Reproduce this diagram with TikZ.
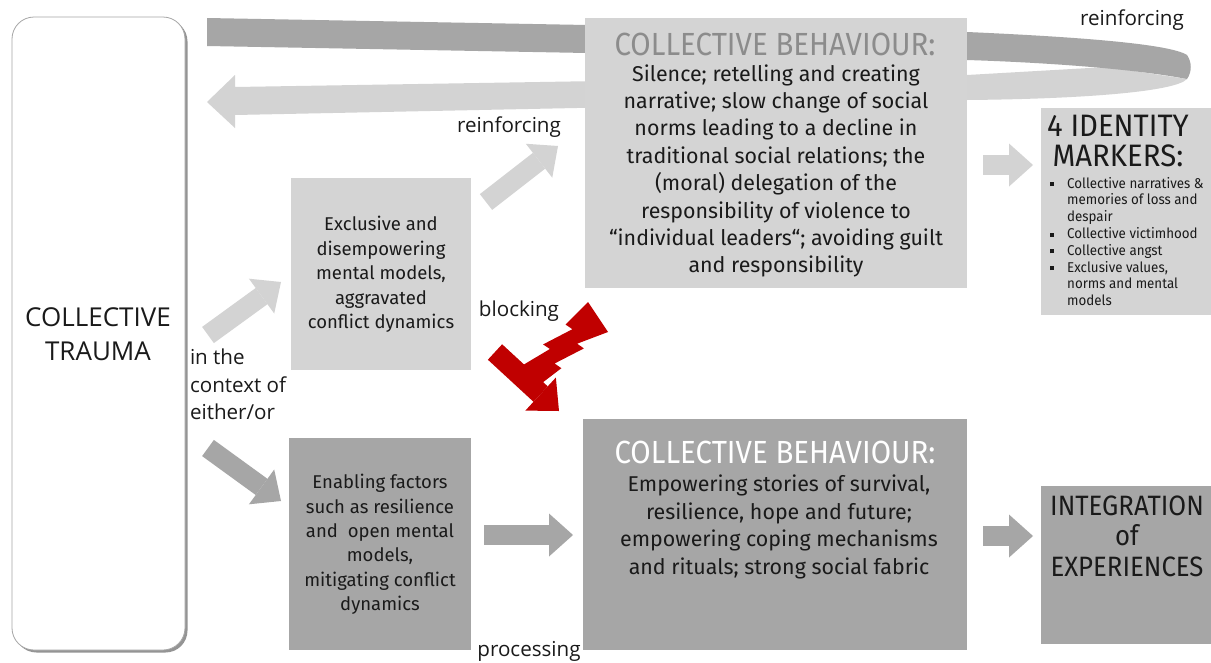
\documentclass[tikz,border=0pt]{standalone}
\usepackage{fontspec}
\setmainfont{Fira Sans}
\newfontfamily\headfont[FakeStretch=0.92]{Fira Sans}
\newfontfamily\idfont[FakeStretch=0.945]{Fira Sans}
\newfontfamily\bodyfont{Fira Sans}
\newfontfamily\listfont[FakeStretch=0.94]{Fira Sans}
\newfontfamily\labfont{Open Sans}
\usetikzlibrary{arrows.meta}
\definecolor{lightg}{HTML}{D3D3D3}
\definecolor{boxlight}{HTML}{D4D4D4}
\definecolor{darkg}{HTML}{A6A6A6}
\definecolor{headg}{HTML}{8C8C8C}
\definecolor{txt}{HTML}{1A1A1A}
\definecolor{boltred}{HTML}{C00000}
\newcommand\mybul{\makebox[17pt][l]{\rule[2pt]{4pt}{4pt}}}
\newcommand\myind{\hspace*{17pt}}
\begin{document}
\begin{tikzpicture}[x=1pt,y=-1pt,
  box/.style={inner sep=0pt, outer sep=0pt, minimum width=#1},
  lightbox/.style={fill=boxlight, draw=none},
  darkbox/.style={fill=darkg, draw=none},
  txtnode/.style={inner sep=0pt, outer sep=0pt, align=center, text=txt},
  lab/.style={inner sep=0pt, outer sep=0pt, text=txt, font={\labfont\fontsize{20.6}{27.5}\selectfont}},
  heading/.style={inner sep=0pt, align=center, font={\headfont\fontsize{32}{30}\selectfont}},
  bodytext/.style={txtnode, font={\bodyfont\fontsize{21.4}{27.4}\selectfont}},
  smalltext/.style={txtnode, font={\fontsize{18.5}{24.4}\selectfont}},
  blockarrow/.style={line width=20pt, -{Triangle[length=24pt,width=43pt,line width=0pt]}},
  lightarrow/.style={blockarrow, draw=lightg},
  darkarrow/.style={blockarrow, draw=darkg},
  redarrow/.style={line width=21pt, draw=boltred, -{Triangle[length=25pt,width=45pt,line width=0pt]}}
]
\useasboundingbox (0,0) rectangle (1211,662);
\fill[white] (0,0) rectangle (1211,662);

% ---- reinforcing loop ribbon ----
\fill[lightg] (235,87) -- (967,75) -- (1107,67) -- (1187,79)
  .. controls (1175,92) and (1080,99) .. (967,100) -- (235,115) -- (235,128) -- (207,102) -- (235,75) -- cycle;
\fill[darkg] (207,18) -- (967,32) .. controls (1080,37) and (1170,44) .. (1187,55)
  .. controls (1192,62) and (1192,72) .. (1187,79)
  .. controls (1140,70) and (1060,63) .. (967,60) -- (207,46) -- cycle;

% ---- collective trauma box ----
\node[box=173pt, minimum height=633pt, rounded corners=22pt, fill=black!42] at (101,336) {};
\node[box=173pt, minimum height=633pt, rounded corners=22pt, fill=white, draw=black!35, line width=0.8pt] (trauma) at (98.5,333.5) {};
\node[txtnode, font={\labfont\fontsize{26}{34}\selectfont}] (traumatxt) at (98,334) {COLLECTIVE\\TRAUMA};

% ---- boxes ----
\node[box=382pt, minimum height=270pt, lightbox] (topbox) at (776,153) {};
\node[box=170pt, minimum height=207pt, lightbox] (idbox) at (1126,211.5) {};
\node[box=180pt, minimum height=192pt, lightbox] (exbox) at (381,274) {};
\node[box=182pt, minimum height=212pt, darkbox] (enbox) at (380,544) {};
\node[box=384pt, minimum height=231pt, darkbox] (botbox) at (775,534.5) {};
\node[box=170pt, minimum height=158pt, darkbox] (intbox) at (1126,565) {};

% ---- box texts ----
\node[heading, text=headg] (tophead) at (775,44) {COLLECTIVE BEHAVIOUR:};
\node[bodytext] (topbody) at (776,171) {Silence; retelling and creating\\
narrative; slow change of social\\
norms leading to a decline in\\
traditional social relations; the\\
(moral) delegation of the\\
responsibility of violence to\\
“individual leaders“; avoiding guilt\\
and responsibility};

\node[inner sep=0pt, align=center, text=txt, font={\idfont\fontsize{31}{30}\selectfont}] (idhead) at (1118,141) {4 IDENTITY\\MARKERS:};
\node[inner sep=0pt, align=left, anchor=west, text=txt, font={\listfont\fontsize{14.2}{16.8}\selectfont}] (idlist) at (1050,241.5) {\mybul Collective narratives \&\\
\myind memories of loss and\\
\myind despair\\
\mybul Collective victimhood\\
\mybul Collective angst\\
\mybul Exclusive values,\\
\myind norms and mental\\
\myind models};

\node[smalltext] (extxt) at (381,274.5) {Exclusive and\\disempowering\\mental models,\\aggravated\\conflict dynamics};
\node[smalltext] (entxt) at (380,544.5) {Enabling factors\\such as resilience\\and~ open mental\\models,\\mitigating conflict\\dynamics};

\node[heading, text=white] (bothead) at (775,452) {COLLECTIVE BEHAVIOUR:};
\node[bodytext] (botbody) at (779,527) {Empowering stories of survival,\\
resilience, hope and future;\\
empowering coping mechanisms\\
and rituals; strong social fabric};

\node[heading, text=txt, font={\headfont\fontsize{28}{30.5}\selectfont}] (inttxt) at (1127,536) {INTEGRATION\\of\\EXPERIENCES};

% ---- labels ----
\node[lab] (lreinf1) at (1132,20) {reinforcing};
\node[lab] (lreinf2) at (509,127) {reinforcing};
\node[lab] (lblock) at (519,311) {blocking};
\node[lab, align=left, anchor=north west] (lctx) at (190,349) {in the\\context of\\either/or};
\node[lab] (lproc) at (529,651) {processing};

% ---- block arrows ----
\coordinate (a1s) at (208,335); \coordinate (a1e) at (281,282);
\coordinate (a2s) at (486,202); \coordinate (a2e) at (558,146);
\coordinate (a3s) at (208,448); \coordinate (a3e) at (281,501);
\coordinate (a4s) at (484,535); \coordinate (a4e) at (573,535);
\coordinate (a5s) at (983,165); \coordinate (a5e) at (1033,165);
\coordinate (a6s) at (983,536); \coordinate (a6e) at (1033,536);
\draw[lightarrow] (a1s) -- (a1e);
\draw[lightarrow] (a2s) -- (a2e);
\draw[darkarrow] (a3s) -- (a3e);
\draw[darkarrow] (a4s) -- (a4e);
\draw[lightarrow] (a5s) -- (a5e);
\draw[darkarrow] (a6s) -- (a6e);

% ---- blocking bolt ----
\coordinate (rs) at (495,352); \coordinate (rt) at (559,411);
\fill[boltred] (588,302) -- (565.6,324.6) -- (572.4,329.2) -- (543.1,344.4) -- (549.9,349.0) -- (521.9,365.7)
  -- (539.1,385.2) -- (561.4,368.2) -- (554.6,363.5) -- (583.9,348.4) -- (577.1,343.7) -- (608,332) -- cycle;
\draw[redarrow] (rs) -- (rt);
\end{tikzpicture}
\end{document}
